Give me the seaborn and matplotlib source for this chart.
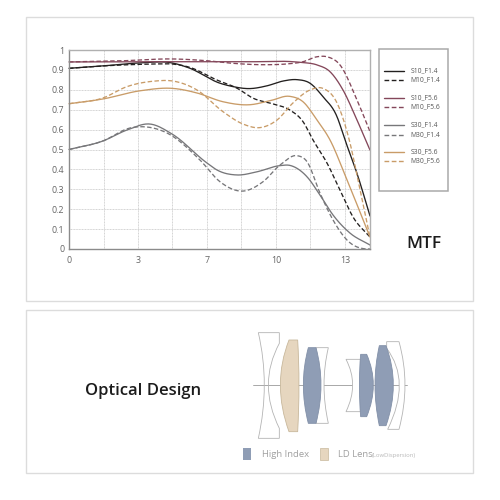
import numpy as np
import pandas as pd
import matplotlib
matplotlib.use("Agg")
import matplotlib.pyplot as plt
from matplotlib.path import Path
from matplotlib.patches import PathPatch, Rectangle
import seaborn as sns

sns.set_theme(style="white")
plt.rcParams["font.family"] = ["Open Sans", "DejaVu Sans"]

# MTF readings: position across the frame and contrast
s10_f14_x = [0, 1.7, 3.55, 5.1, 6, 7.55, 8.2, 9, 9.9, 10.7, 11.4, 12.05, 12.7, 13.4, 13.8, 14.4, 15.05]
s10_f14_y = [.908, .92, .935, .936, .91, .833, .816, .806, .82, .844, .851, .833, .765, .665, .548, .38, .166]
m10_f14_x = [0, 1.7, 3.55, 4.4, 5.1, 6, 7.4, 8.4, 9.2, 10.2, 11.05, 11.7, 12.2, 12.9, 13.55, 14.2, 15.05]
m10_f14_y = [.908, .92, .928, .93, .93, .914, .849, .808, .758, .729, .698, .64, .548, .432, .296, .161, .06]
s10_f56_x = [0, 3, 6, 9, 11.55, 12.4, 13.05, 13.7, 14.4, 15.05]
s10_f56_y = [.94, .941, .941, .941, .938, .925, .891, .799, .648, .497]
m10_f56_x = [0, 2.7, 5.2, 6.9, 8.2, 9.9, 10.9, 11.7, 12.4, 12.9, 13.55, 14.4, 15.05]
m10_f56_y = [.94, .946, .955, .946, .933, .926, .93, .941, .966, .966, .925, .749, .59]
s30_f14_x = [0, 1.7, 2.9, 4.05, 5.15, 6.9, 7.4, 8.4, 9.4, 10.55, 11.05, 11.9, 12.55, 13.2, 14.05, 15.05]
s30_f14_y = [.5, .543, .598, .628, .578, .432, .397, .372, .388, .419, .42, .363, .271, .171, .08, .02]
m30_f14_x = [0, 1.7, 3.05, 3.9, 4.9, 6.55, 7.55, 8.7, 9.7, 10.55, 11.4, 11.9, 12.55, 13.2, 13.9, 14.9, 15.05]
m30_f14_y = [.5, .543, .608, .613, .583, .447, .338, .291, .338, .422, .469, .439, .281, .146, .045, .0, .0]
s30_f56_x = [0, 1.7, 3.55, 5.2, 6.4, 7.7, 9.05, 10.05, 11.05, 11.7, 12.4, 13.05, 13.9, 15.05]
s30_f56_y = [.73, .754, .795, .807, .784, .74, .725, .745, .767, .74, .648, .548, .347, .06]
m30_f56_x = [0, 1.7, 2.9, 4.2, 5.2, 6.4, 7.7, 8.7, 9.55, 10.4, 11.2, 12.05, 12.7, 13.4, 14.05, 14.55, 15.05]
m30_f56_y = [.73, .759, .816, .843, .844, .799, .69, .628, .61, .648, .734, .799, .807, .734, .533, .296, .06]

legend_names = ["S10_F1.4", "M10_F1.4", "S10_F5.6", "M10_F5.6",
                "S30_F1.4", "M30_F1.4", "S30_F5.6", "M30_F5.6"]
y_ticks = [0, .1, .2, .3, .4, .5, .6, .7, .8, .9, 1]
y_tick_labels = ["0", "0.1", "0.2", "0.3", "0.4", "0.5", "0.6", "0.7", "0.8", "0.9", "1"]
x_tick_positions = [0, 3.45, 6.9, 10.35, 13.8]
x_tick_labels = ["0", "3", "7", "10", "13"]

BLACK, MAROON, GREY, TAN = "#23201f", "#84475a", "#77777a", "#c99c68"
series = [
    (s10_f14_x, s10_f14_y, BLACK, "-"), (m10_f14_x, m10_f14_y, BLACK, (0, (3.4, 1.8))),
    (s10_f56_x, s10_f56_y, MAROON, "-"), (m10_f56_x, m10_f56_y, MAROON, (0, (3.4, 1.8))),
    (s30_f14_x, s30_f14_y, GREY, "-"), (m30_f14_x, m30_f14_y, GREY, (0, (3.4, 1.8))),
    (s30_f56_x, s30_f56_y, TAN, "-"), (m30_f56_x, m30_f56_y, TAN, (0, (3.4, 1.8))),
]


def smooth(x, y, per_segment=16):
    """Cubic Hermite curve through the readings, for a soft line between them."""
    x, y = np.asarray(x, float), np.asarray(y, float)
    t = np.gradient(y, x)
    xs, ys = [], []
    for i in range(len(x) - 1):
        h = x[i + 1] - x[i]
        u = np.linspace(0, 1, per_segment, endpoint=False)
        xs.append(x[i] + u * h)
        ys.append((2*u**3 - 3*u**2 + 1) * y[i] + (u**3 - 2*u**2 + u) * h * t[i]
                  + (-2*u**3 + 3*u**2) * y[i + 1] + (u**3 - u**2) * h * t[i + 1])
    return np.r_[np.concatenate(xs), x[-1]], np.clip(np.r_[np.concatenate(ys), y[-1]], 0, 1)


fig = plt.figure(figsize=(5, 5), dpi=100, facecolor="white")

# Page layer in pixel units: panels, legend box, lens diagram
page = fig.add_axes([0, 0, 1, 1], zorder=0)
page.set_xlim(0, 500)
page.set_ylim(500, 0)
page.axis("off")
for top, bottom in [(17, 301), (310, 473)]:
    page.add_patch(Rectangle((26, top), 447, bottom - top, fc="white", ec="#dcdcdc", lw=1))
page.add_patch(Rectangle((378.5, 49), 69, 142, fc="white", ec="#a9a9a9", lw=1.1))

legend_rows = [70.5, 80, 97.5, 107, 125, 134.5, 151.5, 161]
for name, row, (_, _, colour, style) in zip(legend_names, legend_rows, series):
    page.plot([384, 404], [row, row], color=colour, ls=style, lw=1)
    page.text(410.5, row, name, fontsize=4.9, color="#555555", va="center")

page.text(406, 244, "MTF", fontsize=12.5, fontweight="semibold", color="#1c1c1c", va="center")
page.text(85, 391, "Optical Design", fontsize=12, fontweight="semibold", color="#1c1c1c", va="center")


def lens(segments, fc, ec, zorder=2):
    """Lens outline from a start point, then straight (two values) or curved (four values) runs."""
    verts, codes = [segments[0]], [Path.MOVETO]
    for seg in segments[1:]:
        if len(seg) == 2:
            verts.append(seg)
            codes.append(Path.LINETO)
        else:
            x0, y0 = verts[-1]
            bx, by, x1, y1 = seg
            verts += [(2*bx - (x0 + x1)/2, 2*by - (y0 + y1)/2), (x1, y1)]
            codes += [Path.CURVE3, Path.CURVE3]
    verts = [(220 + a/3, 320 + b/3) for a, b in verts]
    page.add_patch(PathPatch(Path(verts + [verts[0]], codes + [Path.CLOSEPOLY]),
                             fc=fc, ec=ec, lw=0.6, zorder=zorder))


OUT, OUT_EC = "white", "#b4b4b4"
BLUE, BLUE_EC = "#8f9db5", "#8290a8"
SAND, SAND_EC = "#e6d6bf", "#c8b89c"
page.plot([253, 407], [385, 385], color="#9a9a9a", lw=0.6, zorder=1)
lens([(115, 38), (178, 38), (178, 70), (145, 195, 178, 325), (178, 355), (115, 355), (133, 195, 115, 38)], "none", OUT_EC)
lens([(207, 60), (233, 60), (237, 195, 233, 335), (207, 335), (181, 195, 207, 60)], SAND, SAND_EC)
lens([(288, 83), (325, 83), (312, 195, 325, 310), (288, 310)], OUT, OUT_EC)
lens([(265, 83), (288, 83), (303, 195, 288, 310), (265, 310), (250, 195, 265, 83)], BLUE, BLUE_EC, 3)
lens([(378, 118), (422, 118), (422, 275), (378, 275), (398, 195, 378, 118)], OUT, OUT_EC)
lens([(422, 103), (440, 103), (460, 195, 440, 290), (422, 290), (418, 195, 422, 103)], BLUE, BLUE_EC, 3)
lens([(500, 65), (537, 65), (555, 195, 537, 328), (503, 328), (538, 195, 500, 85)], OUT, OUT_EC)
lens([(478, 77), (498, 77), (520, 195, 498, 317), (478, 317), (465, 195, 478, 77)], BLUE, BLUE_EC, 3)

page.add_patch(Rectangle((243, 448), 8, 12, fc=BLUE, ec="none"))
page.add_patch(Rectangle((319.5, 448), 8, 12, fc=SAND, ec=SAND_EC, lw=0.5))
page.text(262, 454.5, "High Index", fontsize=6.8, color="#a0a0a0", va="center")
page.text(338, 454.5, "LD Lens", fontsize=6.8, color="#a0a0a0", va="center")
page.text(372, 455, "(LowDispersion)", fontsize=4.2, color="#b8b8b8", va="center")

# MTF chart
ax = fig.add_axes([69/500, 1 - 249/500, 301/500, 199/500], zorder=1)
ax.patch.set_alpha(0)
for x, y, colour, style in series:
    xs, ys = smooth(x, y)
    sns.lineplot(x=xs, y=ys, ax=ax, color=colour, linestyle=style, linewidth=0.95,
                 estimator=None, sort=False, legend=False, clip_on=False)

ax.set_xlim(0, 15.05)
ax.set_ylim(0, 1)
ax.set_xticks(x_tick_positions, x_tick_labels)
ax.set_xticks([1.725, 5.175, 8.625, 12.075], minor=True)
ax.set_yticks(y_ticks, y_tick_labels)
ax.set_xlabel("")
ax.set_ylabel("")
ax.tick_params(which="both", length=0)
ax.tick_params(axis="x", labelsize=6.4, labelcolor="#666666", pad=5)
ax.tick_params(axis="y", labelsize=6.4, labelcolor="#666666", pad=3.5)
ax.grid(True, which="both", color="#d2d2d2", lw=0.7, ls=(0, (1, 0.6)))
ax.set_axisbelow(True)
for side, colour, width in [("left", "#8b8b8b", 1.0), ("bottom", "#8b8b8b", 1.0),
                            ("top", "#b0b0b0", 1.0), ("right", "#b0b0b0", 1.0)]:
    ax.spines[side].set_visible(True)
    ax.spines[side].set_color(colour)
    ax.spines[side].set_linewidth(width)

fig.savefig("out.png", dpi=100)
